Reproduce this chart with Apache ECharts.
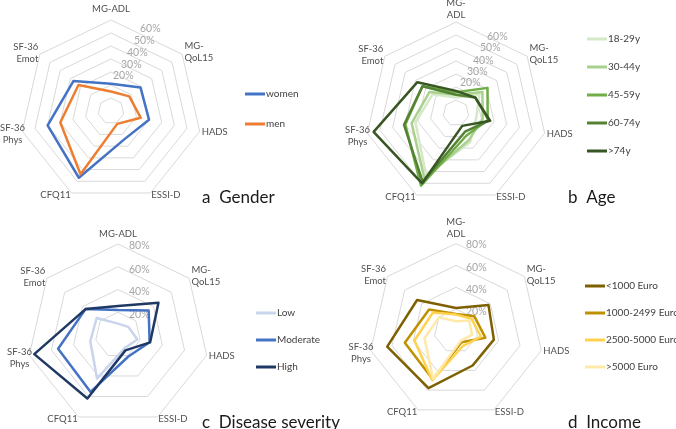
<!DOCTYPE html>
<html>
<head>
<meta charset="utf-8">
<script src="https://cdn.jsdelivr.net/npm/echarts@6/dist/echarts.min.js"></script>
<style>
html,body{margin:0;padding:0;background:#fff;}
#chart{width:676px;height:429px;}
</style>
</head>
<body>
<div id="chart"></div>
<script>
// Axes in clockwise order starting at top
var axesA = ['MG-ADL', 'MG-\nQoL15', 'HADS', 'ESSI-D', 'CFQ11', 'SF-36\nPhys', 'SF-36\nEmot'];
var axesB = ['MG-\nADL', 'MG-\nQoL15', 'HADS', 'ESSI-D', 'CFQ11', 'SF-36\nPhys', 'SF-36\nEmot'];
var axesC = ['MG-ADL', 'MG-\nQoL15', 'HADS', 'ESSI-D', 'CFQ11', 'SF-36\nPhys', 'SF-36\nEmot'];
var axesD = ['MG-\nADL', 'MG-\nQoL15', 'HADS', 'ESSI-D', 'CFQ11', 'SF-36\nPhys', 'SF-36\nEmot'];

// Panel a: Gender (%)
var genderNames = ['women', 'men'];
var women = [21, 29, 30, 24, 57, 50, 37];
var men = [15, 18, 23.5, 11, 54, 40, 32];

// Panel b: Age (%)
var ageNames = ['18-29y', '30-44y', '45-59y', '60-74y', '>74y'];
var age18 = [12, 23, 16, 25, 53, 32, 23];
var age30 = [14, 26, 21, 23, 56, 35, 26];
var age45 = [16, 31, 25, 19, 62, 40, 33];
var age60 = [14, 19, 26, 16, 59, 41, 33];
var age74 = [17, 19, 27, 11, 60, 65, 38];

// Panel c: Disease severity (%)
var sevNames = ['Low', 'Moderate', 'High'];
var sevLow = [10, 11.5, 17.5, 13, 42.5, 25, 24];
var sevModerate = [22, 34.5, 28.5, 21, 55.5, 54, 36.5];
var sevHigh = [25.5, 45.5, 29, 15, 62, 75.5, 36.5];

// Panel d: Income (%)
var incNames = ['<1000 Euro', '1000-2499 Euro', '2500-5000 Euro', '>5000 Euro'];
var inc1 = [21, 38, 35.5, 35, 58, 64.5, 45.5];
var inc2 = [15.5, 21.5, 27.5, 11.5, 49, 48, 31.5];
var inc3 = [15, 18, 23.5, 15, 50, 39, 27];
var inc4 = [9, 15.5, 15, 10, 48.5, 29.5, 20];

// Tick labels
var ticksAB = [20, 30, 40, 50, 60];
var ticksCD = [20, 40, 60, 80];

// ---- styling (not data) ----
var FONT = 'Lato, "Open Sans", sans-serif';
// per-tick label padding [top,right,bottom,left] to mimic the staggered labels
var padA = [[0, 0, 18, 0], [0, 0, 14, 8], [0, 0, 12, 14], [0, 0, 10, 21], [0, 0, 8, 27]];
var padB = [[0, 0, 8, 0], [0, 0, 4, 7], [0, 0, 0, 13], [0, 0, 0, 20], [4, 0, 0, 27]];
var padCD = [[4, 0, 0, 0], [4, 0, 0, 0], [5, 0, 0, 0], [3, 0, 0, 0]];
// per-axis name placement (clockwise index): [nameGap, align, verticalAlign]
var namePlace = [[3, null, null], [3, 'left', 'middle'], [2, null, null], [2, null, null], [2, null, null], [10, 'center', 'middle'], [2, null, null]];

// ECharts lays out radar indicators counter-clockwise; reorder from clockwise
var order = [0, 6, 5, 4, 3, 2, 1];
function reorder(arr) { return order.map(function (k) { return arr[k]; }); }

function radarCfg(center, radius, max, split, names, ticks, margin, pads, topGap) {
  var rich = {};
  ticks.forEach(function (t, i) {
    rich['t' + i] = { color: '#a6a6a6', fontSize: 10.5, fontFamily: FONT, padding: pads[i] };
  });
  return {
    center: center, radius: radius, startAngle: 90, shape: 'polygon',
    splitNumber: split,
    indicator: order.map(function (k, i) {
      var p = namePlace[k];
      var ind = { name: names[k], min: 0, max: max, nameGap: k === 0 ? topGap : p[0] };
      var ts = {};
      if (p[1]) ts.align = p[1];
      if (p[2]) ts.verticalAlign = p[2];
      ind.nameTextStyle = ts;
      if (i === 0) {
        ind.axisLabel = {
          show: true, color: '#a6a6a6', fontSize: 10.5, fontFamily: FONT,
          margin: margin, align: 'left', rich: rich,
          formatter: function (v) {
            var j = ticks.indexOf(Math.round(v));
            return j >= 0 ? '{t' + j + '|' + Math.round(v) + '%}' : '';
          }
        };
      }
      return ind;
    }),
    axisName: { color: '#505050', fontSize: 9.5, fontFamily: FONT, lineHeight: 12 },
    nameGap: 3,
    splitLine: { lineStyle: { color: '#d9d9d9', width: 1 } },
    splitArea: { show: false },
    axisLine: { show: false },
    axisTick: { show: false },
    axisLabel: { show: false }
  };
}

function ser(radarIndex, name, vals, color) {
  return {
    type: 'radar', radarIndex: radarIndex, name: name, symbol: 'none',
    lineStyle: { color: color, width: 2.5 }, itemStyle: { color: color },
    data: [{ name: name, value: reorder(vals) }]
  };
}

function legendCfg(names, left, top, gap) {
  return {
    data: names, orient: 'vertical', left: left, top: top, itemGap: gap,
    icon: 'rect', itemWidth: 20, itemHeight: 3, padding: 0,
    textStyle: { color: '#404040', fontSize: 10, fontFamily: FONT, padding: [0, 0, 0, -4] },
    selectedMode: false
  };
}

var titleStyle = { fontSize: 17, fontWeight: 'normal', color: '#1a1a1a', fontFamily: FONT };

var chart = echarts.init(document.getElementById('chart'), null, { renderer: 'canvas' });
chart.setOption({
  animation: false,
  backgroundColor: '#fff',
  title: [
    { text: 'a  Gender', left: 197, top: 184, textStyle: titleStyle },
    { text: 'b  Age', left: 563, top: 184, textStyle: titleStyle },
    { text: 'c  Disease severity', left: 197, top: 409, textStyle: titleStyle },
    { text: 'd  Income', left: 563, top: 409, textStyle: titleStyle }
  ],
  radar: [
    radarCfg([111, 111], 91, 70, 7, axesA, ticksAB, -2, padA, 5),
    radarCfg([456, 113], 91, 70, 7, axesB, ticksAB, -4, padB, 1),
    radarCfg([118, 335], 91, 80, 4, axesC, ticksCD, -11, padCD, 4),
    radarCfg([456, 331], 87.5, 80, 4, axesD, ticksCD, -10, padCD, 3)
  ],
  legend: [
    legendCfg(genderNames, 245, 89, 20),
    legendCfg(ageNames, 587, 34, 18),
    legendCfg(sevNames, 256, 308, 17),
    legendCfg(incNames, 585, 281, 17)
  ],
  series: [
    ser(0, 'women', women, '#4472c4'),
    ser(0, 'men', men, '#ed7d31'),
    ser(1, '18-29y', age18, '#d5e8c8'),
    ser(1, '30-44y', age30, '#a9d18e'),
    ser(1, '45-59y', age45, '#70ad47'),
    ser(1, '60-74y', age60, '#548235'),
    ser(1, '>74y', age74, '#375623'),
    ser(2, 'Low', sevLow, '#c9d5ec'),
    ser(2, 'Moderate', sevModerate, '#4472c4'),
    ser(2, 'High', sevHigh, '#203864'),
    ser(3, '<1000 Euro', inc1, '#7f6000'),
    ser(3, '1000-2499 Euro', inc2, '#bf9000'),
    ser(3, '2500-5000 Euro', inc3, '#ffd24d'),
    ser(3, '>5000 Euro', inc4, '#ffe9a8')
  ]
});
</script>
</body>
</html>
